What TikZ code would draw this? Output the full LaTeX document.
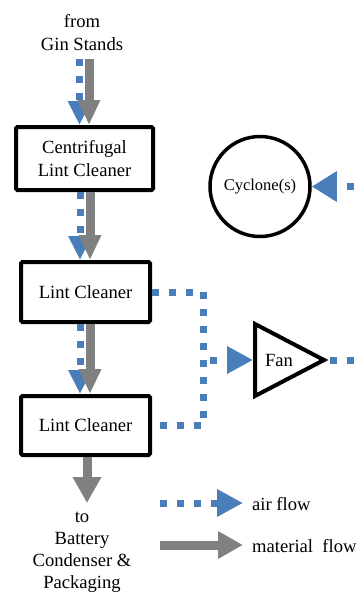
\documentclass[tikz,border=0pt]{standalone}
\usepackage{fontspec}
\setmainfont{Liberation Serif}
\usetikzlibrary{arrows.meta}
\definecolor{airblue}{RGB}{74,126,187}
\definecolor{matgray}{RGB}{128,128,128}
\begin{document}
\begin{tikzpicture}[x=1pt,y=-1pt,
  txt/.style={font=\fontsize{18.6}{22.5}\selectfont, align=center, inner sep=0pt},
  box/.style={draw=black, line width=4pt, rounded corners=1.5pt, txt},
  air/.style={draw=airblue, line width=7pt, dash pattern=on 7pt off 10pt},
  airarrow/.style={air, -{Triangle[length=26pt,width=26pt]}},
  airv/.style={air, -{Triangle[length=24pt,width=22pt]}},
  matv/.style={draw=matgray, line width=9pt, -{Triangle[length=25pt,width=21pt]}},
  mat/.style={draw=matgray, line width=9pt, -{Triangle[length=26pt,width=27pt]}},
]
\useasboundingbox (0,0) rectangle (364,592);
\clip (0,0) rectangle (364,592);

% nodes
\node[txt] (src) at (82,32.4) {from\\Gin Stands};
\node[box, minimum width=137pt, minimum height=63pt] (clc) at (84.5,158.5) {Centrifugal\\Lint Cleaner};
\node[box, minimum width=129pt, minimum height=60pt] (lc1) at (85.5,292) {Lint Cleaner};
\node[box, minimum width=129pt, minimum height=59pt] (lc2) at (85.5,425.5) {Lint Cleaner};
\node[txt, font=\fontsize{18.6}{22}\selectfont] (dst) at (82,552) {to\\Battery\\Condenser \&\\Packaging};
\node[draw=black, circle, line width=3.5pt, minimum size=100pt, inner sep=0pt,
      font=\fontsize{16.5}{19}\selectfont] (cyc) at (260,186.5) {Cyclone(s)};

% fan
\draw[line width=4pt, line join=miter] (255,324) -- (255,396) -- (324,360) -- cycle;
\node[txt] (fan) at (279,360) {Fan};
\coordinate (fanIn) at (253,360);
\coordinate (fanOut) at (330,360);
\coordinate (fanDst) at (380,360);
\coordinate (cycSrc) at (380,186.5);
\coordinate (j) at (203,360);

% vertical flows
\draw[airv, shorten <=8.5pt] ([xshift=-5pt]clc.north |- src.south) -- ([xshift=-5pt]clc.north);
\draw[matv, shorten <=8.5pt] ([xshift=4.5pt]clc.north |- src.south) -- ([xshift=4.5pt]clc.north);

\draw[airv] ([xshift=-5.5pt]lc1.north |- clc.south) -- ([xshift=-5.5pt]lc1.north);
\draw[matv] ([xshift=4.5pt]lc1.north |- clc.south) -- ([xshift=4.5pt]lc1.north);

\draw[airv] ([xshift=-5.5pt]lc1.south) -- ([xshift=-5.5pt]lc2.north);
\draw[matv] ([xshift=4.5pt]lc1.south) -- ([xshift=4.5pt]lc2.north);

\draw[mat, shorten >=8.5pt] ([xshift=1.5pt]lc2.south) -- ([xshift=1.5pt]lc2.south |- dst.north);

% air network
\draw[air] (lc1.east) -| (j) |- (lc2.east);
\draw[airarrow, dash phase=10pt] (j) -- (fanIn);
\draw[air] (fanOut) -- (fanDst);
\draw[air, dash phase=8pt, -{Triangle[length=25pt,width=29pt]}] (cycSrc) -- (cyc.east);

% legend
\coordinate (l1) at (160,503);
\coordinate (l2) at (160,545);
\node[txt, anchor=west] (airtxt) at (252,504) {air flow};
\node[txt, anchor=west] (mattxt) at (252,546) {material\ \ flow};
\draw[airarrow, shorten >=9pt] (l1) -- (l1 -| airtxt.west);
\draw[draw=matgray, line width=9pt, -{Triangle[length=25pt,width=26pt]}, shorten >=9pt] (l2) -- (l2 -| mattxt.west);
\end{tikzpicture}
\end{document}
